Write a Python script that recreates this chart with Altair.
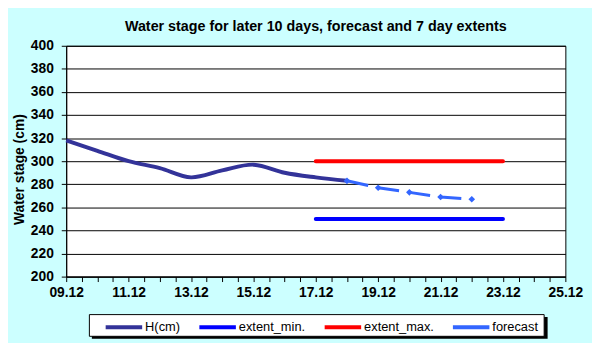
import altair as alt
import pandas as pd

# ---- data ----
h_dates = ["09.12", "10.12", "11.12", "12.12", "13.12", "14.12", "15.12", "16.12", "17.12", "18.12"]
h_values = [318, 309, 300, 294, 286, 292, 297, 290, 286, 283]

fc_dates = ["18.12", "19.12", "20.12", "21.12", "22.12"]
fc_values = [283, 277, 273, 269, 267]

ext_dates = ["17.12", "23.12"]
ext_min_values = [250, 250]
ext_max_values = [300, 300]

series_names = ["H(cm)", "extent_min.", "extent_max.", "forecast"]
series_colors = ["#333399", "#0000FF", "#FF0000", "#3366FF"]

x_tick_labels = ["09.12", "11.12", "13.12", "15.12", "17.12", "19.12", "21.12", "23.12", "25.12"]
y_ticks = list(range(200, 401, 20))

title_text = "Water stage for later 10 days, forecast and 7 day extents"
y_title = "Water stage (cm)"


def day(s):
    return int(s[:2])


h_df = pd.DataFrame({"day": [day(d) for d in h_dates], "value": h_values, "series": series_names[0]})
fc_df = pd.DataFrame({"day": [day(d) for d in fc_dates], "value": fc_values, "series": series_names[3]})
emin_df = pd.DataFrame({"day": [day(d) for d in ext_dates], "value": ext_min_values, "series": series_names[1]})
emax_df = pd.DataFrame({"day": [day(d) for d in ext_dates], "value": ext_max_values, "series": series_names[2]})

FONT = "Liberation Sans, Arial, sans-serif"

label_days = [day(t) for t in x_tick_labels]
label_expr = ""
for d, t in zip(label_days, x_tick_labels):
    label_expr += f"datum.value == {d} ? '{t}' : "
label_expr += "''"

first, last = label_days[0], label_days[-1]
x_values = [first + 0.5 * i for i in range(int((last - first) * 2) + 1)]

x_axis = alt.Axis(
    values=x_values, labelExpr=label_expr, grid=False, title=None,
    tickSize=5, tickColor="black", domainColor="black", labelColor="black",
    labelFont=FONT, labelFontSize=14, labelFontWeight="bold",
    labelPadding=4, labelOverlap=False, labelFlush=False,
)
y_axis = alt.Axis(
    values=y_ticks, grid=True, gridColor="black", gridOpacity=1, gridWidth=1,
    tickSize=5, tickColor="black", domainColor="black", labelColor="black",
    labelFont=FONT, labelFontSize=14, labelFontWeight="bold", labelPadding=8,
    title=y_title, titleFont=FONT, titleFontSize=14, titleFontWeight="bold",
    titleColor="black", titleX=-43, titleY=125, titleBaseline="alphabetic",
)

X = alt.X("day:Q", scale=alt.Scale(domain=[first, last], nice=False, zero=False), axis=x_axis)
Y = alt.Y("value:Q", scale=alt.Scale(domain=[200, 400], nice=False, zero=False), axis=y_axis)
C = alt.Color(
    "series:N",
    scale=alt.Scale(domain=series_names, range=series_colors),
    legend=alt.Legend(
        title=None, orient="none", direction="horizontal", legendX=38, legendY=264.5,
        symbolType="stroke", symbolSize=1369, symbolStrokeWidth=4,
        labelFont=FONT, labelFontSize=13, labelColor="black", labelOffset=1,
        columnPadding=11, padding=0,
    ),
)

# legend box (decoration) with shadow
shadow = alt.Chart(alt.Data(values=[{}])).mark_rect(color="black").encode(
    x=alt.value(26), x2=alt.value(488), y=alt.value(275), y2=alt.value(297)
)
box = alt.Chart(alt.Data(values=[{}])).mark_rect(fill="white", stroke="black", strokeWidth=1).encode(
    x=alt.value(23.5), x2=alt.value(484.5), y=alt.value(272.5), y2=alt.value(294.5)
)

h_line = alt.Chart(h_df).mark_line(strokeWidth=4, interpolate="catmull-rom").encode(x=X, y=Y, color=C)
emin_line = alt.Chart(emin_df).mark_line(strokeWidth=4, strokeCap="round").encode(x=X, y=Y, color=C)
emax_line = alt.Chart(emax_df).mark_line(strokeWidth=4, strokeCap="round").encode(x=X, y=Y, color=C)
fc_line = alt.Chart(fc_df).mark_line(strokeWidth=3, strokeDash=[22, 9.8]).encode(x=X, y=Y, color=C)
fc_pts = alt.Chart(fc_df).mark_point(shape="diamond", filled=True, size=45, opacity=1).encode(x=X, y=Y, color=C)

chart = alt.layer(
    shadow, box, emax_line, emin_line, h_line, fc_line, fc_pts
).properties(
    width=506, height=234,
    autosize=alt.AutoSizeParams(type="none"),
    padding={"left": 59, "top": 36, "right": 27, "bottom": 65},
    title=alt.TitleParams(
        text=title_text, font=FONT, fontSize=14.5, fontWeight="bold", color="black",
        anchor="middle", frame="group", baseline="alphabetic", offset=6, dy=13,
    ),
).configure(
    background="#CCFFFF",
).configure_view(
    fill="white", stroke="black", strokeWidth=1,
)

chart.save("out.html", embed_options={"renderer": "svg", "actions": False})
